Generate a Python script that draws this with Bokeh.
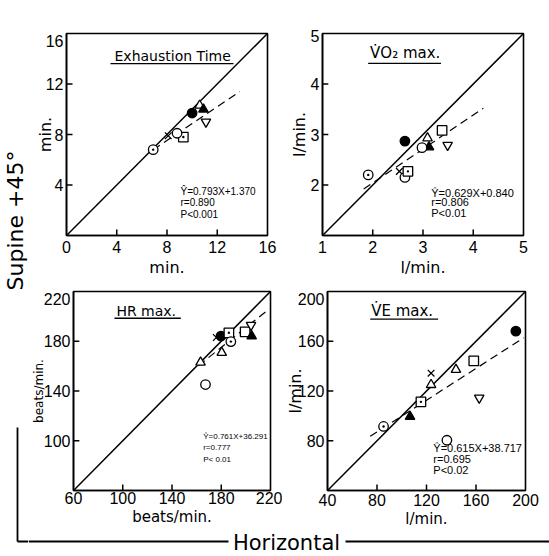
import math
from bokeh.plotting import figure
from bokeh.layouts import row, column
from bokeh.models import Label, FixedTicker, Range1d, ColumnDataSource
from bokeh.embed import file_html
from bokeh.resources import INLINE

# ---------------- data ----------------
# x = Horizontal, y = Supine +45 deg ; one marker per subject
# Exhaustion time (min.)
et_kind = ["filled_circle", "open_triangle", "filled_triangle", "inv_triangle",
           "dot_square", "open_circle", "cross", "dot_circle"]
et_horiz = [10.0, 10.6, 10.9, 11.1, 9.3, 8.8, 8.1, 6.9]
et_supine = [9.7, 10.3, 10.0, 9.0, 7.8, 8.1, 7.9, 6.8]
et_reg_x = [6.9, 13.8]
et_reg_y = [6.8, 11.4]
et_lim = [0, 16]
et_xticks = [0, 4, 8, 12, 16]
et_yticks = [4, 8, 12]
et_ytop = "16"
et_stats = ["Ŷ=0.793X+1.370", "r=0.890", "P<0.001"]

# VO2 max (l/min.)
vo_kind = ["filled_circle", "dot_circle", "cross", "open_circle", "dot_square",
           "open_triangle", "filled_triangle", "open_circle", "open_square", "inv_triangle"]
vo_horiz = [2.64, 1.91, 2.53, 2.64, 2.70, 3.09, 3.12, 2.98, 3.38, 3.49]
vo_supine = [2.87, 2.20, 2.27, 2.15, 2.27, 2.93, 2.75, 2.74, 3.08, 2.79]
vo_reg_x = [1.82, 4.20]
vo_reg_y = [1.92, 3.52]
vo_lim = [1, 5]
vo_xticks = [1, 2, 3, 4, 5]
vo_yticks = [2, 3, 4]
vo_ytop = "5"
vo_stats = ["Ŷ=0.629X+0.840", "r=0.806", "P<0.01"]

# HR max (beats/min.)
hr_kind = ["filled_circle", "cross", "dot_square", "dot_circle", "open_triangle",
           "open_triangle", "open_circle", "open_square", "inv_triangle", "filled_triangle"]
hr_horiz = [179.8, 176.0, 186.2, 187.8, 180.4, 163.2, 167.2, 199.4, 204.2, 204.7]
hr_supine = [184.2, 183.0, 186.8, 179.7, 170.9, 163.0, 145.2, 187.6, 193.0, 184.2]
hr_reg_x = [161.4, 218.2]
hr_reg_y = [160.3, 205.4]
hr_lim = [60, 220]
hr_xticks = [60, 100, 140, 180, 220]
hr_yticks = [100, 140, 180]
hr_ytop = "220"
hr_stats = ["Ŷ=0.761X+36.291", "r=0.777", "P< 0.01"]

# VE max (l/min.)
ve_kind = ["filled_circle", "open_square", "open_triangle", "cross", "open_triangle",
           "dot_square", "filled_triangle", "dot_circle", "inv_triangle", "open_circle"]
ve_horiz = [192.2, 158.2, 143.8, 123.7, 123.7, 115.5, 106.7, 85.3, 162.6, 136.5]
ve_supine = [168.1, 144.3, 137.2, 134.3, 125.0, 111.3, 99.4, 91.5, 114.5, 80.4]
ve_reg_x = [74.5, 198.7]
ve_reg_y = [83.6, 162.8]
ve_lim = [40, 200]
ve_xticks = [40, 80, 120, 160, 200]
ve_yticks = [80, 120, 160]
ve_ytop = "200"
ve_stats = ["Ŷ=0.615X+38.717", "r=0.695", "P<0.02"]

MARKERS = {
    "filled_circle": ("circle", "black"),
    "open_circle": ("circle", "white"),
    "dot_circle": ("circle_dot", "white"),
    "open_square": ("square", "white"),
    "dot_square": ("square_dot", "white"),
    "open_triangle": ("triangle", "white"),
    "filled_triangle": ("triangle", "black"),
    "inv_triangle": ("inverted_triangle", "white"),
    "cross": ("x", "white"),
}

TICK_FONT = "Liberation Sans"
TEXT_FONT = "DejaVu Sans"
HALF_PI = math.pi / 2


def build(ox, oy, w, h, frame, lim, xticks, yticks, ytop, ytop_shift,
          xlabel, ylabel, xl_size, yl_size, x_std, xl_std, yl_std):
    fl, fr, ft, fb = frame
    p = figure(width=w, height=h, x_range=Range1d(*lim), y_range=Range1d(*lim),
               output_backend="svg", toolbar_location=None,
               min_border_left=fl - ox, min_border_right=ox + w - fr,
               min_border_top=ft - oy, min_border_bottom=oy + h - fb)
    p.background_fill_color = "white"
    p.border_fill_color = "white"
    p.outline_line_color = "black"
    p.outline_line_width = 1.6
    p.grid.visible = False
    ppx = (fr - fl) / (lim[1] - lim[0])
    ppy = (fb - ft) / (lim[1] - lim[0])
    top_pos = round(lim[1] - ytop_shift / ppy, 4)
    p.xaxis.ticker = FixedTicker(ticks=xticks)
    p.yaxis.ticker = FixedTicker(ticks=yticks + [top_pos])
    p.yaxis.major_label_overrides = {top_pos: ytop}
    for ax in (p.xaxis, p.yaxis):
        ax.major_tick_line_color = None
        ax.major_tick_in = 0
        ax.major_tick_out = 0
        ax.minor_tick_line_color = None
        ax.axis_line_width = 1.6
        ax.major_label_text_font = TICK_FONT
        ax.major_label_text_font_size = "16px"
        ax.major_label_text_color = "black"
        ax.axis_label_text_font = TEXT_FONT
        ax.axis_label_text_font_style = "normal"
        ax.axis_label_text_color = "black"
    p.xaxis.major_label_standoff = x_std
    p.yaxis.major_label_standoff = 3
    p.xaxis.axis_label = xlabel
    p.yaxis.axis_label = ylabel
    p.xaxis.axis_label_text_font_size = f"{xl_size}px"
    p.yaxis.axis_label_text_font_size = f"{yl_size}px"
    p.xaxis.axis_label_standoff = xl_std
    p.yaxis.axis_label_standoff = yl_std

    # inner tick marks (6 px long)
    xin = [t for t in xticks if lim[0] < t < lim[1]]
    yin = [t for t in yticks if lim[0] < t < lim[1]]
    dx, dy = 6 / ppx, 6 / ppy
    p.segment(x0=xin, y0=[lim[0]] * len(xin), x1=xin, y1=[lim[0] + dy] * len(xin),
              line_color="black", line_width=1.5)
    p.segment(x0=[lim[0]] * len(yin), y0=yin, x1=[lim[0] + dx] * len(yin), y1=yin,
              line_color="black", line_width=1.5)

    def to_data(X, Y):
        x = lim[0] + (X - fl) / ppx
        y = lim[0] + (fb - Y) / ppy
        return x, y
    return p, to_data


def text(p, td, X, Y, s, font=TEXT_FONT, size=12, align="left", baseline="middle", angle=0.0):
    x, y = td(X, Y)
    p.add_layout(Label(x=x, y=y, text=s, text_font=font, text_font_size=f"{size}px",
                       text_align=align, text_baseline=baseline, angle=angle,
                       text_color="black"))


def draw_data(p, lim, kind, xs, ys, reg_x, reg_y):
    p.line(lim, lim, line_color="black", line_width=1.5)
    p.line(reg_x, reg_y, line_color="black", line_width=1.2, line_dash="8 5")
    src = ColumnDataSource(dict(x=xs, y=ys,
                                marker=[MARKERS[k][0] for k in kind],
                                fill=[MARKERS[k][1] for k in kind]))
    p.scatter("x", "y", source=src, marker="marker", fill_color="fill",
              line_color="black", line_width=1.3, size=9.5)


def underline(p, td, X0, X1, Y):
    x0, y = td(X0, Y)
    x1, _ = td(X1, Y)
    p.line([x0, x1], [y, y], line_color="black", line_width=1.3)


# ---------- panel 1 : Exhaustion time ----------
p1, t1 = build(28, 0, 258, 281, (66, 267, 33, 237), et_lim, et_xticks, et_yticks, et_ytop, 8,
               "min.", "min.", 16, 16, 5, 2, -12)
draw_data(p1, et_lim, et_kind, et_horiz, et_supine, et_reg_x, et_reg_y)
text(p1, t1, 114, 56, "Exhaustion Time", size=14)
underline(p1, t1, 110, 233, 63.5)
for i, s in enumerate(et_stats):
    text(p1, t1, 180, [192.5, 203.5, 216][i], s, font=TICK_FONT, size=10)

# ---------- panel 2 : VO2 max ----------
p2, t2 = build(286, 0, 263, 281, (316, 523, 32, 235), vo_lim, vo_xticks, vo_yticks, vo_ytop, 3,
               "l/min.", "l/min.", 16, 16, 5, 2, -1)
draw_data(p2, vo_lim, vo_kind, vo_horiz, vo_supine, vo_reg_x, vo_reg_y)
text(p2, t2, 365, 52, "V̇O₂ max.", size=15)
underline(p2, t2, 363, 438, 62)
for i, s in enumerate(vo_stats):
    text(p2, t2, 428, [192, 201.5, 212][i], s, font=TICK_FONT, size=11)

# ---------- panel 3 : HR max ----------
p3, t3 = build(28, 281, 254, 249, (68, 270, 291, 492), hr_lim, hr_xticks, hr_yticks, hr_ytop, 8,
               "beats/min.", "beats/min.", 15, 12, 1, 1, -5)
draw_data(p3, hr_lim, hr_kind, hr_horiz, hr_supine, hr_reg_x, hr_reg_y)
text(p3, t3, 112, 311, "HR max.", size=14)
underline(p3, t3, 110, 178, 318)
for i, s in enumerate(hr_stats):
    text(p3, t3, 201, [437, 449, 461][i], s, font=TICK_FONT, size=8)

# ---------- panel 4 : VE max ----------
p4, t4 = build(282, 281, 267, 249, (321, 525, 288, 490), ve_lim, ve_xticks, ve_yticks, ve_ytop, 8,
               "l/min.", "l/min.", 15, 16, 3, 1, -10)
draw_data(p4, ve_lim, ve_kind, ve_horiz, ve_supine, ve_reg_x, ve_reg_y)
text(p4, t4, 366, 308, "V̇E max.", size=15)
underline(p4, t4, 365, 435, 316)
for i, s in enumerate(ve_stats):
    text(p4, t4, 430, [447, 458, 469][i], s, font=TICK_FONT, size=11)


# ---------- outer frame labels (page pixel coordinates) ----------
def strip(ox, oy, w, h):
    s = figure(width=w, height=h, x_range=Range1d(ox, ox + w), y_range=Range1d(oy + h, oy),
               output_backend="svg", toolbar_location=None,
               x_axis_location=None, y_axis_location=None,
               min_border_left=0, min_border_right=0, min_border_top=0, min_border_bottom=0)
    s.outline_line_color = None
    s.grid.visible = False
    s.background_fill_color = "white"
    s.border_fill_color = "white"
    return s


S = strip(0, 0, 28, 556)
S.line([17, 17], [427, 541], line_color="black", line_width=1.8)
S.line([17, 28], [541, 541], line_color="black", line_width=1.8)
S.add_layout(Label(x=14.5, y=220, text="Supine +45°", text_font=TEXT_FONT, text_font_size="22px",
                   text_align="center", text_baseline="middle", angle=HALF_PI, text_color="black"))

B = strip(28, 530, 521, 26)
B.line([28, 228], [541, 541], line_color="black", line_width=1.8)
B.line([345, 549], [541, 541], line_color="black", line_width=1.8)
B.add_layout(Label(x=286, y=542, text="Horizontal", text_font=TEXT_FONT, text_font_size="21px",
                   text_align="center", text_baseline="middle", text_color="black"))

layout = row(S, column(row(p1, p2), row(p3, p4), B))
open("out.html", "w").write(file_html(layout, INLINE))
